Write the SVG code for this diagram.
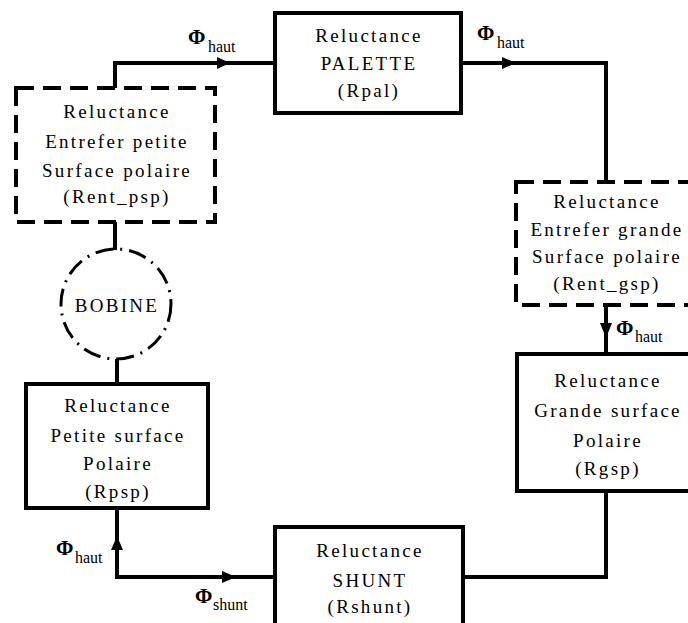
<svg xmlns="http://www.w3.org/2000/svg" width="688" height="623" viewBox="0 0 688 623">
<style>
.box{fill:none;stroke:#000;stroke-width:4}
.dbox{fill:none;stroke:#000;stroke-width:4;stroke-dasharray:18 9}
.coil{fill:none;stroke:#000;stroke-width:3;stroke-dasharray:18 7 2 7}
.wire{fill:none;stroke:#000;stroke-width:4;stroke-linejoin:miter}
text{font-family:'Liberation Serif','DejaVu Serif','Times New Roman',serif;fill:#000}
.t{font-size:19px;letter-spacing:2.3px;text-anchor:middle}
.phi{font-size:21px;font-weight:bold}
.sub{font-size:16px}
.arr{fill:#000;stroke:none}
</style>
<rect width="688" height="623" fill="#fff"/>
<g id="connectors">
<polyline class="wire" points="115,88 115,63 275,63"/>
<polygon class="arr" points="217,57 230,63 217,69"/>
<polyline class="wire" points="461,63 606,63 606,182"/>
<polygon class="arr" points="502,57 516,63 502,69"/>
<line class="wire" x1="606" y1="305" x2="606" y2="354"/>
<polygon class="arr" points="600,323 606,338 612,323"/>
<polyline class="wire" points="606,491 606,577 463,577"/>
<polyline class="wire" points="275,577 117,577 117,508"/>
<polygon class="arr" points="111,550 117,536 123,550"/>
<polygon class="arr" points="222,571 236,577 222,583"/>
<line class="wire" x1="117" y1="384" x2="117" y2="359"/>
<line class="wire" x1="115" y1="250" x2="115" y2="222"/>
</g>
<g id="labels">
<text class="phi" x="188" y="44">Φ</text><text class="sub" x="208" y="52">haut</text>
<text class="phi" x="477" y="40">Φ</text><text class="sub" x="497" y="48">haut</text>
<text class="phi" x="616" y="335">Φ</text><text class="sub" x="635" y="342">haut</text>
<text class="phi" x="56" y="555">Φ</text><text class="sub" x="75" y="563">haut</text>
<text class="phi" x="195" y="603">Φ</text><text class="sub" x="213" y="610">shunt</text>
</g>
<g id="Rpal">
<rect class="box" x="275" y="13" width="186" height="100"/>
<text class="t" x="369" y="42">Reluctance</text>
<text class="t" x="369" y="70">PALETTE</text>
<text class="t" x="369" y="97">(Rpal)</text>
</g>
<g id="Rent_psp">
<rect class="dbox" x="16" y="88" width="199" height="134"/>
<text class="t" x="117" y="118">Reluctance</text>
<text class="t" x="117" y="148">Entrefer petite</text>
<text class="t" x="117" y="177">Surface polaire</text>
<text class="t" x="117" y="203">(Rent_psp)</text>
</g>
<g id="Rent_gsp">
<rect class="dbox" x="516" y="182" width="180" height="123"/>
<text class="t" x="607" y="208">Reluctance</text>
<text class="t" x="607" y="236">Entrefer grande</text>
<text class="t" x="607" y="263">Surface polaire</text>
<text class="t" x="607" y="290">(Rent_gsp)</text>
</g>
<g id="Rgsp">
<rect class="box" x="517" y="354" width="178" height="137"/>
<text class="t" x="608" y="387">Reluctance</text>
<text class="t" x="608" y="417">Grande surface</text>
<text class="t" x="608" y="447">Polaire</text>
<text class="t" x="608" y="475">(Rgsp)</text>
</g>
<g id="Rshunt">
<rect class="box" x="275" y="527" width="188" height="110"/>
<text class="t" x="370" y="557">Reluctance</text>
<text class="t" x="370" y="587">SHUNT</text>
<text class="t" x="370" y="613">(Rshunt)</text>
</g>
<g id="Rpsp">
<rect class="box" x="26" y="384" width="182" height="124"/>
<text class="t" x="118" y="412">Reluctance</text>
<text class="t" x="118" y="442">Petite surface</text>
<text class="t" x="118" y="470">Polaire</text>
<text class="t" x="118" y="498">(Rpsp)</text>
</g>
<g id="bobine">
<circle class="coil" cx="116" cy="304" r="55"/>
<text class="t" x="117" y="312">BOBINE</text>
</g>
</svg>
